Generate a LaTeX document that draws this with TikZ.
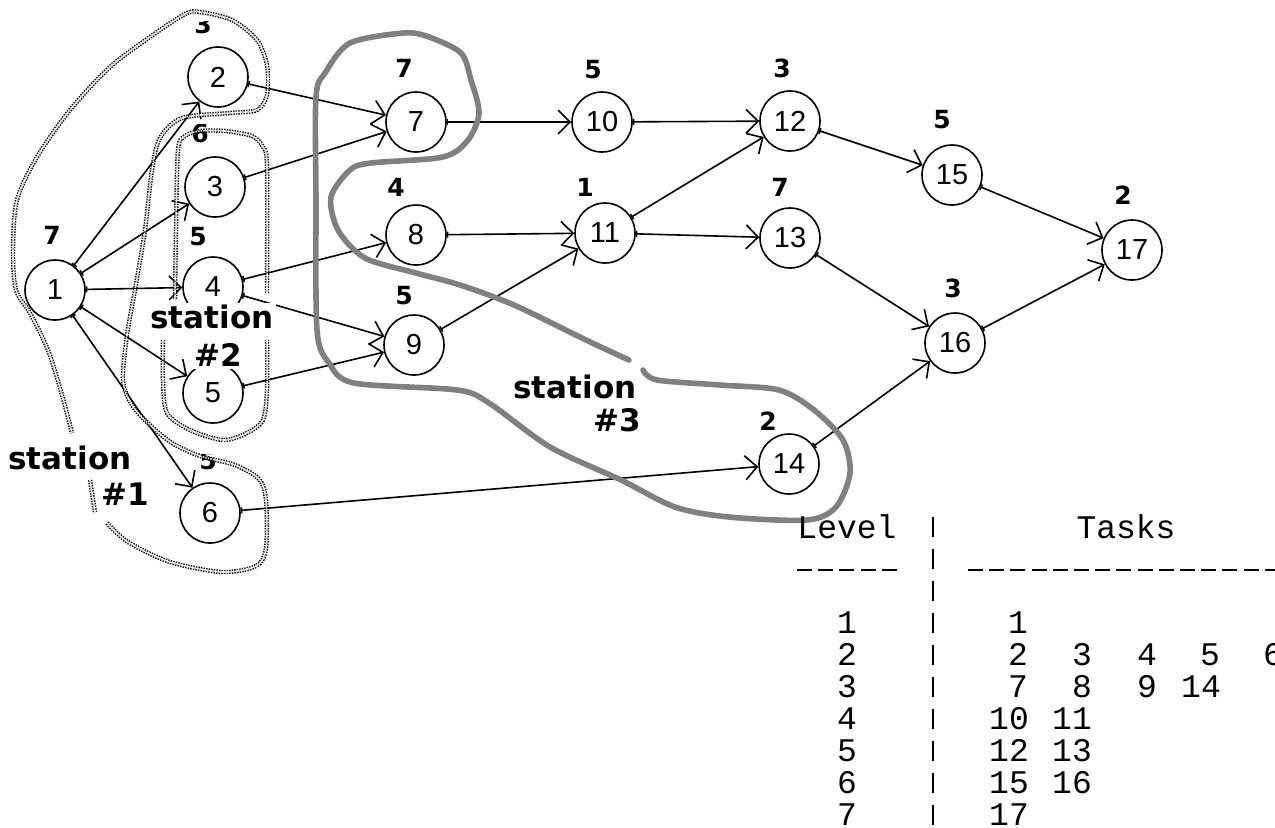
\documentclass[tikz,border=0pt]{standalone}
\usepackage{fontspec}
\setmainfont{Liberation Sans}
\newfontfamily\lblfont{DejaVu Sans}
\newfontfamily\tblfont{Liberation Mono}
\usetikzlibrary{arrows.meta}

\tikzset{
	task/.style={circle, draw, line width=0.8pt, minimum size=30pt, inner sep=0pt, font=\fontsize{14.5}{14.5}\selectfont},
	ttime/.style={inner sep=0pt, font=\lblfont\bfseries\fontsize{12.5}{12.5}\selectfont},
	stn/.style={fill=white, inner sep=1pt, font=\lblfont\bfseries\fontsize{15.5}{15.5}\selectfont},
	arr/.style={line width=0.8pt, arrows={Bar[width=3pt]-Straight Barb[length=6pt,width=12pt]}},
	dotline/.style={black, line width=0.7pt, double=white, double distance=0.8pt, dash pattern=on 0.7pt off 0.6pt},
	bigline/.style={black!50, line width=2.8pt, line join=round, line cap=round},
	tbl/.style={anchor=base, inner sep=0pt, font=\tblfont\fontsize{16.5}{16.5}\selectfont},
	rule/.style={line width=1pt, dash pattern=on 7.5pt off 3.1pt},
	pipe/.style={line width=1pt, dash pattern=on 10pt off 6pt}
}

\begin{document}
\begin{tikzpicture}[x=0.5pt,y=-0.5pt]
	\useasboundingbox (0,0) rectangle (1275,827);

	\foreach \n/\x/\y in {1/55/290, 2/218/77, 3/215/187, 4/213/287, 5/213/393, 6/210/513, 7/416/122, 8/416/235, 9/414/345, 10/602/122, 11/605/233, 12/790/121, 13/790/238, 14/789/464, 15/952/175, 16/955/343, 17/1132/250}
		\node[task] (n\n) at (\x,\y) {\n};

	\foreach \n/\t/\x/\y in {1/7/52/235, 4/5/198/237, 7/7/404/68, 8/4/396/187, 9/5/404/296, 10/5/593/70, 11/1/585/187, 12/3/782/68, 13/7/780/187, 14/2/768/421, 15/5/942/120, 16/3/953/288, 17/2/1123/195}
		\node[ttime] (t\n) at (\x,\y) {\t};
	\begin{scope}
		\clip (180,21) rectangle (225,40);
		\node[ttime] (t2) at (203,24) {3};
	\end{scope}
	\begin{scope}
		\clip (180,124) rectangle (225,150);
		\node[ttime] (t3) at (200,133) {6};
	\end{scope}
	\begin{scope}
		\clip (190,454) rectangle (230,475);
		\node[ttime] (t6) at (208,461) {5};
	\end{scope}

	\foreach \a/\b in {1/2, 1/3, 1/4, 1/5, 1/6, 2/7, 3/7, 4/8, 4/9, 5/9, 6/14, 7/10, 8/11, 9/11, 10/12, 11/12, 11/13, 12/15, 13/16, 14/16, 15/17, 16/17}
		\draw[arr] (n\a) -- (n\b);

	\draw[dotline] plot[smooth] coordinates {(107,523) (128,542) (170,562) (222,572) (256,566) (266,548) (266,500) (259,479) (235,465) (200,456) (172,443) (150,425) (132,405) (123,380) (127,335) (135,290) (145,230) (152,170) (160,138) (182,118) (230,113) (257,110) (267,95) (267,65) (257,40) (232,20) (200,12) (185,14) (150,37) (110,67) (70,110) (37,157) (17,200) (13,250) (16,290) (30,313) (48,350) (62,395) (72,433)};
	\draw[dotline] (90,480) -- (95,512);

	\draw[dotline] plot[smooth] coordinates {(163,340) (163,380) (167,413) (190,430) (223,440) (247,433) (263,420) (267,390) (267,340)};
	\draw[dotline] plot[smooth] coordinates {(267,293) (267,167) (263,147) (252,136) (225,131) (200,131) (185,136) (178,150) (176,230) (175,300)};

	\draw[bigline] plot[smooth] coordinates {(643,370) (657,380) (720,385) (779,390) (814,410) (843,440) (850,473) (836,507) (807,520) (729,517) (675,507) (621,480) (550,447) (489,403) (457,390) (354,383) (329,363) (317,330) (316,200) (316,97) (325,73) (350,43) (404,33) (429,37) (461,53) (471,80) (479,113) (468,140) (443,157) (371,163) (350,170) (331,197) (338,230) (365,258) (416,273) (460,285) (514,305) (586,340) (629,360)};

	\node[stn] (st1) at (70,458) {station};
	\node[stn] (st1n) at (125,494) {\#1};
	\node[stn] (st2) at (212,317) {station};
	\node[stn] (st2n) at (218,355) {\#2};
	\node[stn] (st3) at (575,387) {station};
	\node[stn] (st3n) at (617,420) {\#3};

	\node[tbl] (lvl) at (847,538) {Level};
	\node[tbl] (tsk) at (1126,538) {Tasks};
	\draw[rule] (797,570) -- (900,570);
	\draw[rule] (968,570) -- (1290,570);
	\draw[pipe] (933,517) -- (933,830);
	\foreach \r/\y in {1/633, 2/665, 3/697, 4/729, 5/761, 6/793, 7/825}
		\node[tbl] (lv\r) at (847,\y) {\r};
	\foreach \t/\x/\y in {1/1018/633, 2/1018/665, 3/1082/665, 4/1147/665, 5/1210/665, 6/1273/665, 7/1018/697, 8/1082/697, 9/1147/697, 14/1201/697, 10/1009/729, 11/1072/729, 12/1009/761, 13/1072/761, 15/1009/793, 16/1072/793, 17/1009/825}
		\node[tbl] (tk\t) at (\x,\y) {\t};
\end{tikzpicture}
\end{document}
